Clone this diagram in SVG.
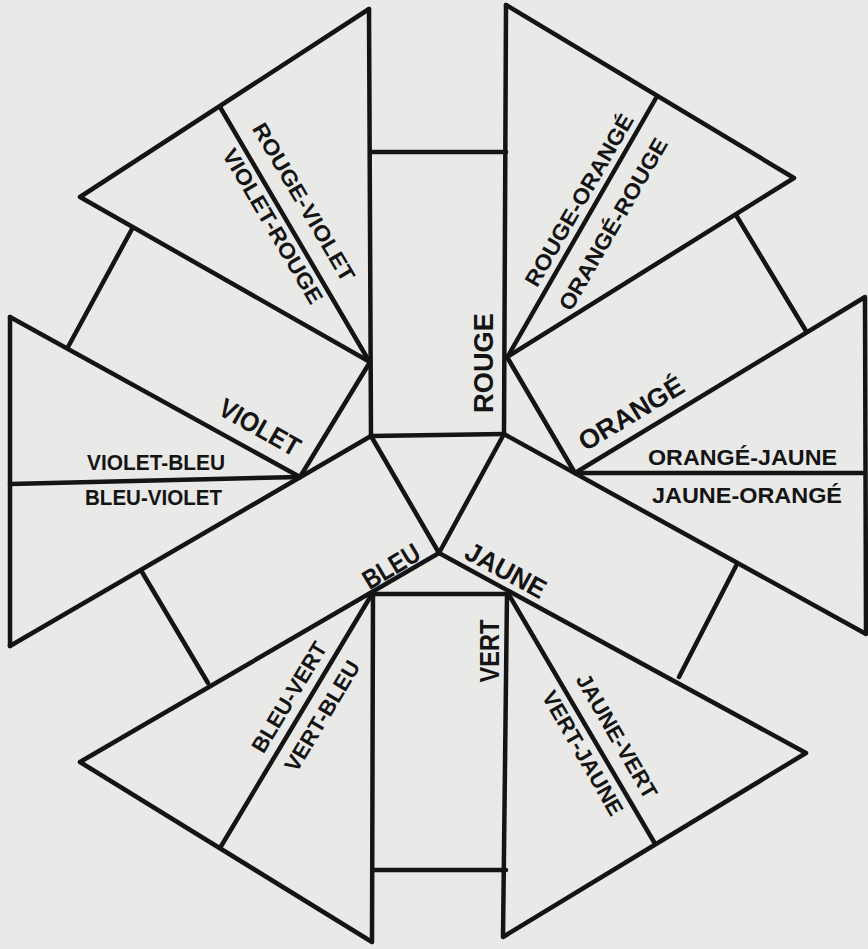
<svg xmlns="http://www.w3.org/2000/svg" width="868" height="949" viewBox="0 0 868 949">
<style>
.ln{fill:none;stroke:#141414;stroke-width:4.5;stroke-linejoin:round;stroke-linecap:round}
.m{font-family:"Liberation Sans",Arial,sans-serif;font-weight:bold;font-size:27px;fill:#141414;text-anchor:middle}
.p{font-family:"Liberation Sans",Arial,sans-serif;font-weight:bold;font-size:22px;fill:#141414}
.pc{text-anchor:middle}
</style>
<rect width="868" height="949" fill="#e9e9e7"/>
<g id="lines" class="ln">
<path d="M369,9 L371,437"/>
<path d="M506,5 L504,434"/>
<path d="M371,152 L506,152"/>
<path d="M371,436 L504,434"/>
<path d="M369,9 L80,197 L370,362"/>
<path d="M220,107 L369,361"/>
<path d="M132,229 L68,347"/>
<path d="M10,317 L300,477"/>
<path d="M10,317 L10,646"/>
<path d="M10,484 L300,477"/>
<path d="M10,646 L371,436"/>
<path d="M370,362 L300,477"/>
<path d="M371,436 L439,553 L504,434"/>
<path d="M142,572 L208,683"/>
<path d="M439,553 L80,762 L372,942 L373,593"/>
<path d="M372,594 L220,848"/>
<path d="M373,594 L507,594"/>
<path d="M373,870 L506,870"/>
<path d="M507,594 L503,937 L806,753 L439,553"/>
<path d="M509,595 L654,842"/>
<path d="M736,566 L679,677"/>
<path d="M504,434 L866,634 L865,297 L575,473"/>
<path d="M575,473 L865,473"/>
<path d="M507,357 L575,473"/>
<path d="M506,5 L794,178 L507,357"/>
<path d="M656,98 L508,356"/>
<path d="M736,215 L806,331"/>
</g>
<g id="rouge"><text class="m" transform="translate(483,363) rotate(-90)" y="9.7" textLength="100" lengthAdjust="spacingAndGlyphs">ROUGE</text></g>
<g id="orange"><text class="m" transform="translate(631,413) rotate(-31)" y="9.7" textLength="118" lengthAdjust="spacingAndGlyphs">ORANGÉ</text></g>
<g id="jaune"><text class="m" transform="translate(506,570) rotate(28.5)" y="9.7" textLength="88" lengthAdjust="spacingAndGlyphs">JAUNE</text></g>
<g id="vert"><text class="m" transform="translate(489,651) rotate(-90)" y="9.7" textLength="63" lengthAdjust="spacingAndGlyphs">VERT</text></g>
<g id="bleu"><text class="m" transform="translate(391,566) rotate(-31)" y="9.7" textLength="62" lengthAdjust="spacingAndGlyphs">BLEU</text></g>
<g id="violet"><text class="m" transform="translate(260,427) rotate(29.5)" y="9.7" textLength="89" lengthAdjust="spacingAndGlyphs">VIOLET</text></g>
<g id="tri-rouge-violet">
<text class="p pc" transform="translate(304,202) rotate(59.5)" y="7.8" textLength="180" lengthAdjust="spacingAndGlyphs">ROUGE-VIOLET</text>
<text class="p pc" transform="translate(273,226) rotate(59.5)" y="7.8" textLength="176" lengthAdjust="spacingAndGlyphs">VIOLET-ROUGE</text>
</g>
<g id="tri-rouge-orange">
<text class="p pc" transform="translate(579,200) rotate(-60)" y="7.8" textLength="195" lengthAdjust="spacingAndGlyphs">ROUGE-ORANGÉ</text>
<text class="p pc" transform="translate(613,224) rotate(-60)" y="7.8" textLength="195" lengthAdjust="spacingAndGlyphs">ORANGÉ-ROUGE</text>
</g>
<g id="tri-orange-jaune">
<text class="p" x="648" y="465" textLength="189" lengthAdjust="spacingAndGlyphs">ORANGÉ-JAUNE</text>
<text class="p" x="652" y="503" textLength="190" lengthAdjust="spacingAndGlyphs">JAUNE-ORANGÉ</text>
</g>
<g id="tri-jaune-vert">
<text class="p pc" transform="translate(617,736) rotate(60)" y="7.8" textLength="140" lengthAdjust="spacingAndGlyphs">JAUNE-VERT</text>
<text class="p pc" transform="translate(583,753) rotate(60)" y="7.8" textLength="140" lengthAdjust="spacingAndGlyphs">VERT-JAUNE</text>
</g>
<g id="tri-bleu-vert">
<text class="p pc" transform="translate(289,697) rotate(-59)" y="7.8" textLength="125" lengthAdjust="spacingAndGlyphs">BLEU-VERT</text>
<text class="p pc" transform="translate(322,716) rotate(-59)" y="7.8" textLength="125" lengthAdjust="spacingAndGlyphs">VERT-BLEU</text>
</g>
<g id="tri-violet-bleu">
<text class="p" x="87" y="470" textLength="138" lengthAdjust="spacingAndGlyphs">VIOLET-BLEU</text>
<text class="p" x="85" y="505" textLength="137" lengthAdjust="spacingAndGlyphs">BLEU-VIOLET</text>
</g>
</svg>
